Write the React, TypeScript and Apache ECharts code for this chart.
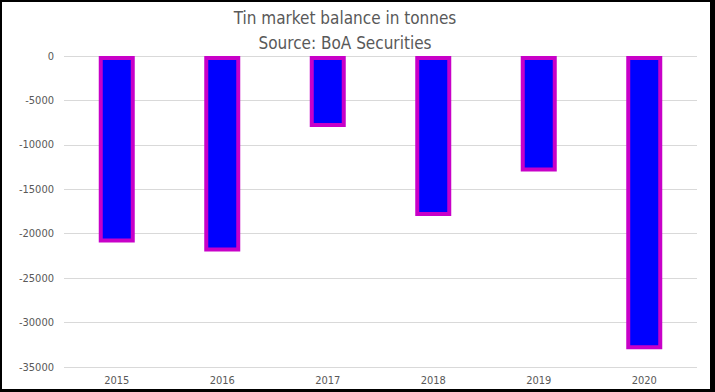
import React, { useEffect, useRef } from "react";
import * as echarts from "echarts";

const categories = ["2015", "2016", "2017", "2018", "2019", "2020"];
const balance = [-21000, -22000, -8000, -18000, -13000, -33000];
const titleLines = ["Tin market balance in tonnes", "Source: BoA Securities"];

const FONT = "'DejaVu Sans Condensed', 'Liberation Sans', sans-serif";

export default function App() {
  const ref = useRef<HTMLDivElement>(null);
  useEffect(() => {
    document.body.style.margin = "0";
    const chart = echarts.init(ref.current!, null, { renderer: "svg" });
    chart.setOption({
      animation: false,
      backgroundColor: "#ffffff",
      graphic: [
        {
          type: "text",
          x: 343,
          y: 16,
          style: {
            text: titleLines[0],
            fill: "#595959",
            font: `17px ${FONT}`,
            textAlign: "center",
            textVerticalAlign: "middle",
          },
        },
        {
          type: "text",
          x: 343,
          y: 41,
          style: {
            text: titleLines[1],
            fill: "#595959",
            font: `17px ${FONT}`,
            textAlign: "center",
            textVerticalAlign: "middle",
          },
        },
      ],
      grid: { left: 62, right: 13, top: 54, bottom: 22, containLabel: false },
      xAxis: {
        type: "category",
        data: categories,
        position: "bottom",
        axisLine: { show: false, onZero: false },
        axisTick: { show: false },
        axisLabel: { color: "#595959", fontSize: 11, fontFamily: FONT, margin: 8 },
      },
      yAxis: {
        type: "value",
        min: -35000,
        max: 0,
        interval: 5000,
        axisLine: { show: false },
        axisTick: { show: false },
        splitLine: { lineStyle: { color: "#d9d9d9", width: 1 } },
        axisLabel: {
          color: "#595959",
          fontSize: 11,
          fontFamily: FONT,
          margin: 10,
          formatter: (v: number) => String(v),
        },
      },
      series: [
        {
          type: "bar",
          data: balance,
          barWidth: 36,
          itemStyle: { color: "#0000ff", borderColor: "#c800c8", borderWidth: 4 },
        },
      ],
    });
    return () => chart.dispose();
  }, []);
  return (
    <div style={{ position: "absolute", left: 0, top: 0, width: 715, height: 392, background: "#000" }}>
      <div
        ref={ref}
        style={{ position: "absolute", left: 2, top: 2, width: 708, height: 387, background: "#fff" }}
      />
    </div>
  );
}
